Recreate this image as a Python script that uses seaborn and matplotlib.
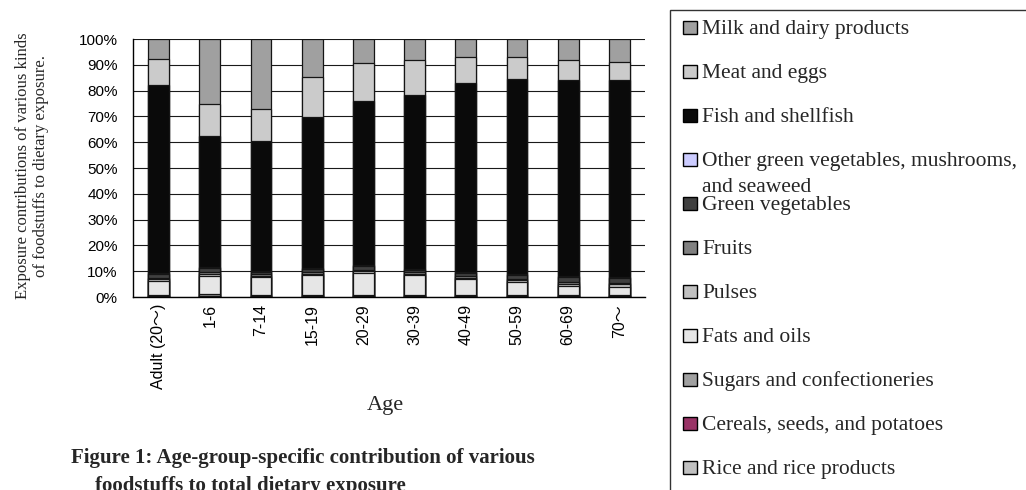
import numpy as np
import matplotlib.pyplot as plt
import seaborn as sns
from matplotlib.patches import Rectangle

# ---- data (% share of total exposure) ----
ages = ['Adult (20～)', '1-6', '7-14', '15-19', '20-29', '30-39',
        '40-49', '50-59', '60-69', '70～']

rice    = [0.3, 0.3, 0.3, 0.3, 0.3, 0.3, 0.3, 0.3, 0.3, 0.3]
cereals = [0.1, 0.2, 0.1, 0.1, 0.1, 0.1, 0.1, 0.1, 0.1, 0.1]
sugars  = [0.2, 0.5, 0.4, 0.3, 0.3, 0.3, 0.2, 0.2, 0.2, 0.2]
fats    = [5.7, 7.1, 6.8, 7.8, 8.7, 7.8, 6.3, 5.1, 3.8, 3.4]
pulses  = [0.6, 0.7, 0.6, 0.6, 0.6, 0.5, 0.6, 0.8, 0.8, 0.9]
fruits  = [0.6, 0.8, 0.6, 0.5, 0.6, 0.5, 0.5, 0.6, 0.7, 0.7]
green   = [1.3, 1.5, 1.0, 1.2, 1.5, 1.1, 1.3, 1.4, 1.7, 1.6]
other   = [0.4, 0.4, 0.3, 0.3, 0.3, 0.3, 0.3, 0.3, 0.5, 0.4]
fish    = [73.0, 50.9, 50.5, 58.5, 63.7, 67.3, 73.2, 75.7, 76.0, 76.5]
meat    = [9.9, 12.5, 12.3, 15.8, 14.7, 13.5, 10.3, 8.4, 7.8, 6.9]
milk    = [7.9, 25.1, 27.1, 14.6, 9.2, 8.3, 6.9, 7.1, 8.1, 9.0]

# bottom -> top
layer_names = ['Rice and rice products', 'Cereals, seeds, and potatoes',
               'Sugars and confectioneries', 'Fats and oils', 'Pulses', 'Fruits',
               'Green vegetables', 'Other green vegetables, mushrooms,\nand seaweed',
               'Fish and shellfish', 'Meat and eggs', 'Milk and dairy products']
layer_values = [rice, cereals, sugars, fats, pulses, fruits, green, other, fish, meat, milk]
layer_colors = ['#c0c0c0', '#993366', '#a0a0a0', '#e6e6e6', '#c0c0c0', '#808080',
                '#404040', '#ccccff', '#0a0a0a', '#cbcbcb', '#a0a0a0']

# ---- style ----
sns.set_style('white')
plt.rcParams['font.family'] = ['Liberation Sans', 'Noto Sans CJK JP', 'DejaVu Sans']
serif = ['Liberation Serif', 'DejaVu Serif']

W, H = 1026, 490
fig = plt.figure(figsize=(W / 100, H / 100), dpi=100)
ax = fig.add_axes([133 / W, 1 - 297 / H, 512 / W, 258 / H])

# stacked bars: draw cumulative totals from the top layer down
cum = np.cumsum(np.array(layer_values), axis=0)
for i in reversed(range(len(layer_values))):
    sns.barplot(x=ages, y=cum[i], color=layer_colors[i], saturation=1,
                width=0.41, edgecolor='#151515', linewidth=0.9,
                errorbar=None, ax=ax)

ax.set_xlim(-0.5, 9.5)
ax.set_ylim(0, 100)
ax.set_yticks(np.arange(0, 101, 10))
ax.set_yticklabels([f'{v}%' for v in range(0, 101, 10)])
ax.yaxis.grid(True, color='#1a1a1a', linewidth=0.8)
ax.set_axisbelow(True)

ax.set_xticks(np.arange(-0.5, 10, 1), minor=True)
ax.tick_params(axis='y', length=0, pad=11, labelsize=11, colors='black')
ax.tick_params(axis='x', which='major', length=0, pad=5, labelsize=11.5,
               labelrotation=90, colors='black')
ax.tick_params(axis='x', which='minor', direction='in', length=5, width=1,
               color='#333333')
for lab in ax.get_xticklabels():
    lab.set_verticalalignment('top')

sns.despine(ax=ax, top=True, right=True)
for side in ['left', 'bottom']:
    ax.spines[side].set_color('black')
    ax.spines[side].set_linewidth(1)
ax.set_xlabel('')
ax.set_ylabel('')

# axis titles
fig.text(32 / W, 1 - 166 / H,
         'Exposure contributions of various kinds\nof foodstuffs to dietary exposure.',
         rotation=90, ha='center', va='center', fontsize=12, family=serif,
         linespacing=1.15)
fig.text(385 / W, 1 - 405 / H, 'Age', ha='center', va='center', fontsize=16,
         family=serif)

# caption (second line runs off the bottom edge, as in the source)
fig.text(71 / W, 1 - 463 / H,
         'Figure 1: Age-group-specific contribution of various',
         ha='left', va='baseline', fontsize=15, fontweight='bold', family=serif)
fig.text(95 / W, 1 - 491 / H, 'foodstuffs to total dietary exposure',
         ha='left', va='baseline', fontsize=15, fontweight='bold', family=serif)

# legend box (top to bottom order), partly cut off on the right/bottom
fig.patches.append(Rectangle((670 / W, 1 - 500 / H), 370 / W, 490 / H,
                             transform=fig.transFigure, facecolor='white',
                             edgecolor='#333333', linewidth=1))
for k, i in enumerate(reversed(range(len(layer_names)))):
    yc = 27.7 + 44.0 * k
    fig.patches.append(Rectangle((683 / W, 1 - (yc + 6.5) / H), 14 / W, 13 / H,
                                 transform=fig.transFigure,
                                 facecolor=layer_colors[i], edgecolor='black',
                                 linewidth=1))
    lines = layer_names[i].split('\n')
    fig.text(702 / W, 1 - (yc + 6) / H, lines[0], ha='left', va='baseline',
             fontsize=15.5, family=serif)
    if len(lines) > 1:
        fig.text(702 / W, 1 - (yc + 32) / H, lines[1], ha='left',
                 va='baseline', fontsize=15.5, family=serif)

fig.savefig('out.png', dpi=100)
